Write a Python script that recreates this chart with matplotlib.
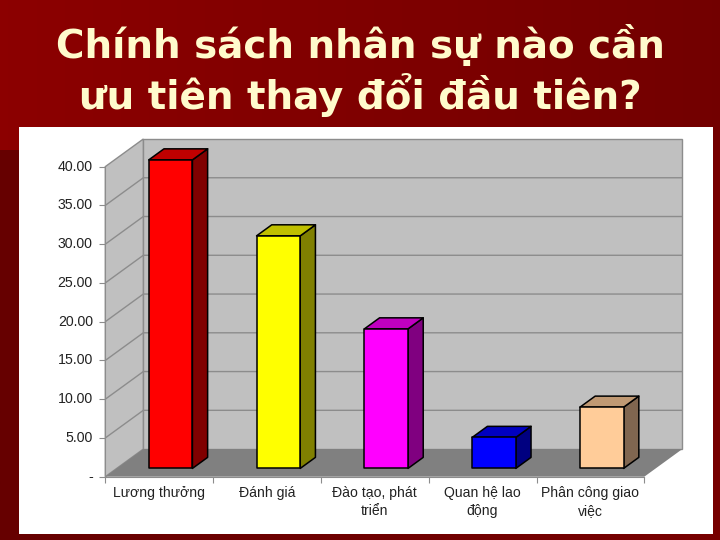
import numpy as np
import matplotlib
matplotlib.use("Agg")
import matplotlib.pyplot as plt
from matplotlib.patches import Polygon, Rectangle
from matplotlib.transforms import ScaledTranslation

categories = ["Lương thưởng", "Đánh giá", "Đào tạo, phát\ntriển", "Quan hệ lao\nđộng", "Phân công giao\nviệc"]
values = [39.8, 30.0, 18.0, 4.0, 7.9]
front_colors = ["#FF0000", "#FFFF00", "#FF00FF", "#0000FF", "#FFCC99"]
top_colors = ["#C00000", "#C0C000", "#C000C0", "#0000C0", "#C09973"]
side_colors = ["#800000", "#808000", "#800080", "#000080", "#806650"]
y_ticks = [0, 5, 10, 15, 20, 25, 30, 35, 40]
y_tick_labels = ["-", "5.00", "10.00", "15.00", "20.00", "25.00", "30.00", "35.00", "40.00"]
title_lines = ["Chính sách nhân sự nào cần", "ưu tiên thay đổi đầu tiên?"]

W, H = 720, 540
# oblique offset of the back wall, in data units
DX = 38.0 / 107.8
DY = 27.7 / 7.775
BAR_W = 0.405


def shifted(x, y, depth):
    return (x + DX * depth, y + DY * depth)


fig = plt.figure(figsize=(7.2, 5.4), dpi=100)

# slide background
bg = fig.add_axes([0, 0, 1, 1])
bg.axis("off")
grad = np.linspace(0, 1, 256).reshape(1, -1, 1)
c1 = np.array([0.55, 0.0, 0.0]).reshape(1, 1, 3)
c2 = np.array([0.45, 0.0, 0.0]).reshape(1, 1, 3)
bg.imshow(c1 + (c2 - c1) * grad, extent=[0, W, 150, 0], aspect="auto", zorder=0)
c3 = np.array([0.40, 0.0, 0.0]).reshape(1, 1, 3)
c4 = np.array([0.47, 0.0, 0.0]).reshape(1, 1, 3)
bg.imshow(c3 + (c4 - c3) * grad, extent=[0, W, H, 150], aspect="auto", zorder=0)
bg.set_xlim(0, W)
bg.set_ylim(H, 0)
bg.add_patch(Rectangle((18.5, 127), 694.5, 407, facecolor="white", edgecolor="none", zorder=1))
for line, base in zip(title_lines, [58, 109]):
    bg.text(360, base, line, color="#FFFBCC", fontsize=28, fontweight="bold", family="DejaVu Sans",
            ha="center", va="baseline", zorder=2)

# chart
left, right, top, bottom = 105.3, 682.3, 139.0, 476.7
ax = fig.add_axes([left / W, 1 - bottom / H, (right - left) / W, (bottom - top) / H])
ax.patch.set_alpha(0)
ax.set_xlim(0, 5 + DX)
ax.set_ylim(0, 40 + DY)

grid_color = "#8C8C8C"
# walls and floor
ax.add_patch(Polygon([(DX, DY), (5 + DX, DY), (5 + DX, 40 + DY), (DX, 40 + DY)], facecolor="#C0C0C0",
                     edgecolor=grid_color, lw=1, clip_on=False, zorder=1))
ax.add_patch(Polygon([(0, 0), (DX, DY), (DX, 40 + DY), (0, 40)], facecolor="#C0C0C0",
                     edgecolor=grid_color, lw=1, clip_on=False, zorder=1))
ax.add_patch(Polygon([(0, 0), (5, 0), (5 + DX, DY), (DX, DY)], facecolor="#808080",
                     edgecolor="none", zorder=2))
for v in y_ticks[1:-1]:
    ax.plot([0, DX, 5 + DX], [v, v + DY, v + DY], color=grid_color, lw=1, zorder=1.5)

# bars
for i, v in enumerate(values):
    x0 = i + 0.5 - BAR_W / 2
    x1 = x0 + BAR_W
    d0, d1 = 0.3, 0.7
    front = [shifted(x0, 0, d0), shifted(x1, 0, d0), shifted(x1, v, d0), shifted(x0, v, d0)]
    side = [shifted(x1, 0, d0), shifted(x1, 0, d1), shifted(x1, v, d1), shifted(x1, v, d0)]
    cap = [shifted(x0, v, d0), shifted(x1, v, d0), shifted(x1, v, d1), shifted(x0, v, d1)]
    ax.add_patch(Polygon(side, facecolor=side_colors[i], edgecolor="black", lw=1.1, joinstyle="round", zorder=3))
    ax.add_patch(Polygon(cap, facecolor=top_colors[i], edgecolor="black", lw=1.1, joinstyle="round", zorder=3))
    ax.add_patch(Polygon(front, facecolor=front_colors[i], edgecolor="black", lw=1.1, joinstyle="round", zorder=4))

# axes
for s in ["top", "right"]:
    ax.spines[s].set_visible(False)
ax.spines["left"].set_bounds(0, 40)
ax.spines["bottom"].set_bounds(0, 5)
ax.spines["left"].set_color(grid_color)
ax.spines["bottom"].set_color(grid_color)
ax.set_yticks(y_ticks)
ax.set_yticklabels(y_tick_labels, family="Liberation Sans", fontsize=10.2, color="#222222")
ax.tick_params(axis="y", length=4, color=grid_color, pad=5)
# the labels sit a little above their ticks in the reference
nudge = ScaledTranslation(0, 1.5 / 100, fig.dpi_scale_trans)
for lab in ax.get_yticklabels():
    lab.set_transform(lab.get_transform() + nudge)
ax.set_xticks(np.arange(6))
ax.set_xticklabels([])
ax.tick_params(axis="x", which="major", length=4, color=grid_color)
ax.set_xticks(np.arange(5) + 0.5, minor=True)
ax.set_xticklabels(categories, minor=True, family="Liberation Sans", fontsize=10.1, color="#222222",
                   linespacing=1.3, va="top")
ax.tick_params(axis="x", which="minor", length=0, pad=7)

fig.savefig("out.png", dpi=100)
